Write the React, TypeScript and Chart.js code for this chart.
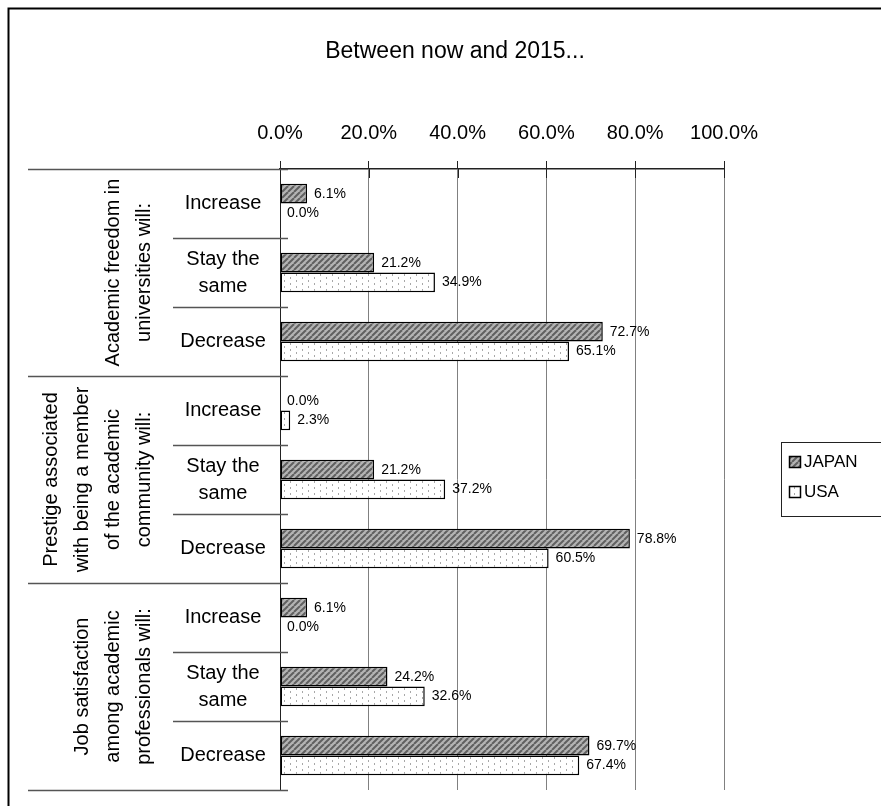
import { useEffect, useRef } from 'react';
import { Chart, registerables } from 'chart.js';

Chart.register(...registerables);

const TITLE = 'Between now and 2015...';
const GROUPS = [
  ['Academic freedom in', 'universities will:'],
  ['Prestige associated', 'with being a member', 'of the academic', 'community will:'],
  ['Job satisfaction', 'among academic', 'professionals will:'],
];
const RESPONSES = [['Increase'], ['Stay the', 'same'], ['Decrease']];
const SERIES_NAMES = ['JAPAN', 'USA'];
const JAPAN = [6.1, 21.2, 72.7, 0.0, 21.2, 78.8, 6.1, 24.2, 69.7];
const USA = [0.0, 34.9, 65.1, 2.3, 37.2, 60.5, 0.0, 32.6, 67.4];
const X_MIN = 0;
const X_MAX = 100;
const X_STEP = 20;

const FONT = "'Liberation Sans', Arial, sans-serif";

function makeHatch(): CanvasPattern | string {
  const c = document.createElement('canvas');
  c.width = 6;
  c.height = 6;
  const g = c.getContext('2d');
  if (!g) return '#999';
  g.fillStyle = '#b4b4b4';
  g.fillRect(0, 0, 6, 6);
  g.strokeStyle = '#606060';
  g.lineWidth = 2;
  for (const off of [-6, 0, 6]) {
    g.beginPath();
    g.moveTo(off, 6);
    g.lineTo(off + 6, 0);
    g.stroke();
  }
  return g.createPattern(c, 'repeat') as CanvasPattern;
}

function makeDots(): CanvasPattern | string {
  const c = document.createElement('canvas');
  c.width = 12;
  c.height = 6;
  const g = c.getContext('2d');
  if (!g) return '#fff';
  g.fillStyle = '#ffffff';
  g.fillRect(0, 0, 12, 6);
  g.fillStyle = '#a8a8a8';
  g.fillRect(2, 1, 1, 2);
  g.fillRect(8, 4, 1, 2);
  return g.createPattern(c, 'repeat') as CanvasPattern;
}

export default function App() {
  const ref = useRef<HTMLCanvasElement | null>(null);

  useEffect(() => {
    const canvas = ref.current;
    if (!canvas) return;
    const hatch = makeHatch();
    const dots = makeDots();
    const fills = [hatch, dots];

    const labels: string[][] = [];
    GROUPS.forEach(() => RESPONSES.forEach((r) => labels.push(r)));

    const decor = {
      id: 'decor',
      afterDatasetsDraw(chart: any) {
        const ctx = chart.ctx as CanvasRenderingContext2D;
        ctx.save();
        ctx.fillStyle = '#000';
        ctx.font = `14px ${FONT}`;
        ctx.textAlign = 'left';
        ctx.textBaseline = 'middle';
        chart.data.datasets.forEach((ds: any, di: number) => {
          const meta = chart.getDatasetMeta(di);
          meta.data.forEach((el: any, i: number) => {
            const v = ds.data[i] as number;
            ctx.fillText(v.toFixed(1) + '%', el.x + 7, el.y);
          });
        });
        // tick marks crossing below the axis line
        const area = chart.chartArea;
        const xs = chart.scales.x;
        ctx.strokeStyle = '#222';
        ctx.lineWidth = 1;
        xs.ticks.forEach((t: any) => {
          const x = Math.round(xs.getPixelForValue(t.value)) + 0.5;
          ctx.beginPath();
          ctx.moveTo(x, area.top);
          ctx.lineTo(x, area.top + 9);
          ctx.stroke();
        });
        ctx.restore();
      },
      afterDraw(chart: any) {
        const ctx = chart.ctx as CanvasRenderingContext2D;
        const area = chart.chartArea;
        const n = labels.length;
        const ch = (area.bottom - area.top) / n;
        ctx.save();

        // outer border
        ctx.strokeStyle = '#000';
        ctx.lineWidth = 2;
        ctx.beginPath();
        ctx.moveTo(8.5, 900);
        ctx.lineTo(8.5, 8.5);
        ctx.lineTo(900, 8.5);
        ctx.stroke();

        // title
        ctx.fillStyle = '#000';
        ctx.font = `23px ${FONT}`;
        ctx.textAlign = 'center';
        ctx.textBaseline = 'middle';
        ctx.fillText(TITLE, 455, 52);

        // left panel lines
        ctx.strokeStyle = '#555';
        ctx.lineWidth = 1.5;
        for (let i = 0; i <= n; i++) {
          const y = Math.round(area.top + i * ch) + 0.5;
          const isGroup = i % RESPONSES.length === 0;
          ctx.beginPath();
          ctx.moveTo(isGroup ? 28 : 173, y);
          ctx.lineTo(area.left + 8, y);
          ctx.stroke();
        }

        // response labels
        ctx.fillStyle = '#000';
        ctx.font = `20px ${FONT}`;
        ctx.textAlign = 'center';
        ctx.textBaseline = 'middle';
        labels.forEach((lines, i) => {
          const yc = area.top + (i + 0.5) * ch;
          lines.forEach((t, li) => {
            const y = yc + (li - (lines.length - 1) / 2) * 27;
            ctx.fillText(t, 223, y);
          });
        });

        // group labels
        GROUPS.forEach((lines, g) => {
          const yc = area.top + (g + 0.5) * RESPONSES.length * ch;
          lines.forEach((t, li) => {
            const x = 144 - (lines.length - 1 - li) * 31;
            ctx.save();
            ctx.translate(x, yc);
            ctx.rotate(-Math.PI / 2);
            ctx.fillText(t, 0, 0);
            ctx.restore();
          });
        });

        // legend
        const lx = 781, ly = 442, lw = 110, lh = 74;
        ctx.strokeStyle = '#222';
        ctx.lineWidth = 1;
        ctx.strokeRect(lx + 0.5, ly + 0.5, lw, lh);
        ctx.font = `17px ${FONT}`;
        ctx.textAlign = 'left';
        chart.data.datasets.forEach((ds: any, di: number) => {
          const iy = ly + 14 + di * 30;
          ctx.fillStyle = fills[di] as any;
          ctx.fillRect(789, iy, 12, 12);
          ctx.strokeStyle = '#000';
          ctx.lineWidth = 1.5;
          ctx.strokeRect(789.5, iy + 0.5, 11, 11);
          ctx.fillStyle = '#000';
          ctx.fillText(ds.label, 804, iy + 6.5);
        });

        ctx.restore();
      },
    };

    const chart = new Chart(canvas, {
      type: 'bar',
      data: {
        labels: labels as any,
        datasets: [
          {
            label: SERIES_NAMES[0],
            data: JAPAN,
            backgroundColor: hatch as any,
            borderColor: '#000',
            borderWidth: 1.5,
            borderSkipped: false,
            categoryPercentage: 0.57,
            barPercentage: 1,
          },
          {
            label: SERIES_NAMES[1],
            data: USA,
            backgroundColor: dots as any,
            borderColor: '#000',
            borderWidth: 1.5,
            borderSkipped: false,
            categoryPercentage: 0.57,
            barPercentage: 1,
          },
        ],
      },
      options: {
        indexAxis: 'y',
        responsive: false,
        animation: false,
        devicePixelRatio: 1,
        layout: { padding: { left: 280, right: 157, top: 105, bottom: 16 } },
        plugins: {
          legend: { display: false },
          tooltip: { enabled: false },
          title: { display: false },
        },
        scales: {
          x: {
            position: 'top',
            min: X_MIN,
            max: X_MAX,
            ticks: {
              stepSize: X_STEP,
              padding: 16,
              color: '#000',
              font: { family: FONT, size: 20 },
              callback: (v: any) => Number(v).toFixed(1) + '%',
              maxRotation: 0,
            },
            grid: {
              color: (c: any) => (c.tick && c.tick.value === 0 ? '#222' : '#808080'),
              lineWidth: 1,
              tickLength: 8,
              tickColor: '#222',
              drawOnChartArea: true,
            },
            border: { display: true, color: '#222', width: 1.5 },
          },
          y: {
            display: false,
          },
        },
      },
      plugins: [decor],
    });

    return () => chart.destroy();
  }, []);

  return (
    <div style={{ position: 'fixed', left: 0, top: 0, width: 881, height: 806, background: '#fff' }}>
      <canvas ref={ref} width={881} height={806} style={{ display: 'block' }} />
    </div>
  );
}
